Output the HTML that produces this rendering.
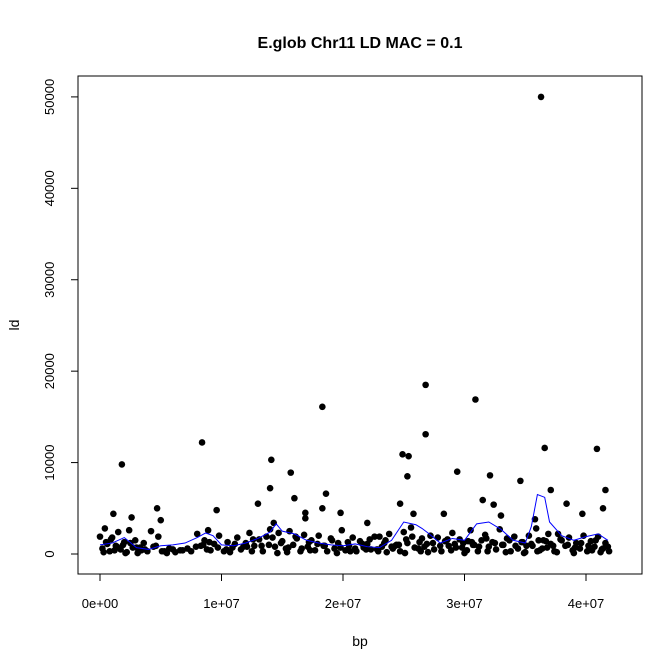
<!DOCTYPE html>
<html><head><meta charset="utf-8"><style>body{margin:0;background:#fff}svg{display:block;font-family:"Liberation Sans",Arial,sans-serif}</style></head>
<body>
<svg id="chart" width="672" height="671" xmlns="http://www.w3.org/2000/svg">
<rect width="672" height="671" fill="#fff"/>
<text x="360" y="48" text-anchor="middle" font-size="16" font-weight="bold">E.glob Chr11 LD MAC = 0.1</text>
<rect x="78" y="76" width="564" height="498" fill="none" stroke="#000"/>
<text x="360" y="646" text-anchor="middle" font-size="14">bp</text>
<text x="19" y="325" text-anchor="middle" font-size="14" transform="rotate(-90 19 325)">ld</text>
<g id="axes"></g><g id="pts"></g><g id="ln"></g>
</svg>
<script>
const xTicks=[0,1e7,2e7,3e7,4e7];
const xTickLabels=["0e+00","1e+07","2e+07","3e+07","4e+07"];
const yTicks=[0,10000,20000,30000,40000,50000];
const yTickLabels=["0","10000","20000","30000","40000","50000"];
// bp in millions
const pointBp=[36.3,36.6,30.9,26.8,26.8,18.3,8.4,1.8,14.1,15.7,24.9,25.4,25.3,29.4,32.1,34.6,40.9,41.6,37.1,14.0,18.6,16.0,4.7,5.0,1.1,2.6,9.6,13.0,16.9,16.9,18.3,19.8,24.7,25.8,31.5,32.4,33.0,35.8,36.9,38.4,39.7,41.4,14.3,22.0,28.3,23.0,
0.0,0.2,0.4,0.6,0.8,1.0,1.3,1.5,1.7,2.0,2.2,2.4,2.7,2.9,3.1,3.4,3.6,3.9,4.2,4.4,4.8,5.3,5.7,6.2,6.8,7.5,8.0,8.3,8.6,8.9,9.1,9.4,9.8,10.2,10.5,10.9,11.3,11.6,12.0,12.3,12.7,13.1,13.4,13.7,14.0,14.4,14.7,15.0,15.3,15.6,15.9,16.2,16.5,16.8,17.1,17.4,17.7,18.0,18.4,18.7,19.0,19.3,19.6,19.9,20.2,20.5,20.8,21.1,21.4,21.7,22.0,22.3,22.6,22.9,23.2,23.5,23.8,24.1,24.4,24.7,25.0,25.3,25.6,25.9,26.2,26.5,26.9,27.2,27.5,27.8,28.1,28.4,28.7,29.0,29.3,29.6,29.9,30.2,30.5,30.8,31.1,31.4,31.7,32.0,32.3,32.6,32.9,33.2,33.5,33.8,34.1,34.4,34.7,35.0,35.3,35.6,35.9,36.2,36.5,36.8,37.1,37.4,37.7,38.0,38.3,38.6,38.9,39.2,39.5,39.8,40.1,40.4,40.7,41.0,41.3,41.6,41.9,
0.3,1.2,2.1,3.3,5.5,8.8,10.7,12.5,14.6,15.4,17.3,19.5,20.6,21.9,23.6,25.1,26.4,27.0,28.9,30.0,31.9,33.4,34.9,36.0,37.6,39.0,40.5,41.2,
0.5,0.9,1.4,1.9,2.5,3.0,3.7,4.6,5.1,6.0,6.6,7.2,7.9,8.5,9.0,9.7,10.4,11.1,11.8,12.6,13.3,13.9,14.2,14.9,15.5,16.1,16.6,17.2,17.9,18.5,19.1,19.8,20.4,21.0,21.6,22.2,22.8,23.4,24.0,24.6,25.2,25.7,26.3,26.7,27.4,28.0,28.6,29.2,29.8,30.3,30.7,31.2,31.8,32.5,33.1,33.7,34.2,34.8,35.5,36.1,36.4,36.7,37.3,37.9,38.5,39.1,39.6,40.2,40.8,41.4,41.8,12.1,24.3,30.6,35.1];
const pointLd=[50000,11600,16900,18500,13100,16100,12200,9800,10300,8900,10900,10700,8500,9000,8600,8000,11500,7000,7000,7200,6600,6100,5000,3700,4400,4000,4800,5500,4500,3900,5000,4500,5500,4400,5900,5400,4200,3800,2200,5500,4400,5000,3400,3400,4400,1900,
1900,600,2800,1100,300,1800,900,2400,500,1300,200,2600,700,1500,100,400,1200,300,2500,800,1900,300,600,200,400,300,2200,900,1500,2600,400,1100,2000,300,1300,700,1800,500,1200,2300,900,1600,300,1900,2700,800,2300,1400,600,2500,1000,1700,300,2100,800,1500,400,2000,900,300,1700,600,1200,2600,400,900,1800,300,1400,700,1100,500,1900,300,800,1500,2200,600,1000,300,2400,1200,2900,700,600,1700,1100,2000,500,1800,300,1400,900,2300,700,1600,1200,400,2600,1000,300,1500,2100,800,1300,500,2700,1000,1700,300,1900,600,1300,200,2000,900,2800,400,1500,700,1100,300,2200,1500,900,1800,400,1200,600,2000,300,1400,800,1900,500,1200,300,
200,400,100,700,100,500,200,300,100,200,400,100,300,500,200,100,300,200,400,100,300,200,100,300,200,100,400,200,
1300,1600,800,1000,1200,700,500,900,300,500,400,600,800,1000,1300,700,500,1100,800,1600,900,1000,1800,1200,700,1900,600,1300,1100,900,1500,700,1300,600,1100,1600,500,1200,800,1000,1600,1900,1300,800,1200,900,1600,1100,700,1400,1000,800,1700,1200,1000,1500,900,1300,1100,1500,600,1400,900,1600,1000,700,1200,900,1500,600,800,800,900,1300,900];
const lineBp=[0,1,2,3,4,5,6,7,8,8.7,9.3,10,11,12,13,14,14.5,15,16,17,18,19,20,21,22,23,24,25,26,26.5,27,28,29,30,31,32,33,34,35,35.5,36,36.6,37,38,39,40,41,41.8];
const lineLd=[1000,1200,1800,700,500,900,1000,1200,1800,2300,2000,1000,900,1200,1700,2400,3300,2500,2200,1500,1200,1000,900,1100,800,700,1500,3500,3200,2800,2300,1200,1700,1500,3300,3500,2700,1500,1200,3000,6500,6200,3500,2000,1500,1900,2200,1500];
const NS="http://www.w3.org/2000/svg";
const X=v=>100+(v/1e7)*121.5, Y=v=>554-v*0.009142;
function mk(t,a,p){const e=document.createElementNS(NS,t);for(const k in a)e.setAttribute(k,a[k]);p.appendChild(e);return e;}
const ax=document.getElementById('axes');
let l=mk('line',{x1:X(0),x2:X(4e7),y1:574,y2:574,stroke:'#000'},ax);


xTicks.forEach((t,i)=>{mk('line',{x1:X(t),x2:X(t),y1:574,y2:581,stroke:'#000'},ax);
 const tx=mk('text',{x:X(t),y:608,'text-anchor':'middle','font-size':13},ax);tx.textContent=xTickLabels[i];
 
 });
l=mk('line',{x1:78,x2:78,y1:Y(0),y2:Y(50000),stroke:'#000'},ax);


yTicks.forEach((t,i)=>{mk('line',{x1:71,x2:78,y1:Y(t),y2:Y(t),stroke:'#000'},ax);
 const tx=mk('text',{x:54,y:Y(t),'text-anchor':'middle','font-size':13,transform:`rotate(-90 54 ${Y(t)})`},ax);tx.textContent=yTickLabels[i];
 
 });
const pg=document.getElementById('pts');
pointBp.forEach((b,i)=>{const c=mk('circle',{cx:X(b*1e6),cy:Y(pointLd[i]),r:3.3,fill:'#000'},pg);
 
 });
const p=mk('polyline',{points:lineBp.map((b,i)=>X(b*1e6)+','+Y(lineLd[i])).join(' '),fill:'none',stroke:'#0000ff','stroke-width':1},document.getElementById('ln'));


</script>
</body></html>
